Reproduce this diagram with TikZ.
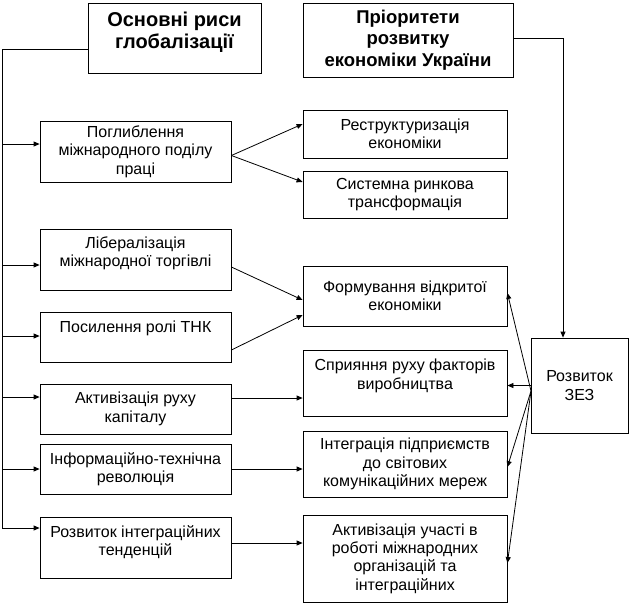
\documentclass[tikz,border=0pt]{standalone}
\usepackage{fontspec}
\setmainfont{Liberation Sans}
\usetikzlibrary{positioning,calc,arrows.meta}

\newcommand{\bodytext}{\fontsize{16}{18.4}\selectfont}
\newcommand{\headtext}{\fontsize{18.5}{21.5}\selectfont\bfseries}

\begin{document}
\begin{tikzpicture}[
    x=1pt, y=-1pt,
    box/.style={draw, line width=0.8pt, align=center, inner sep=0pt, font=\bodytext},
    headbox/.style={box, font=\headtext},
    lbox/.style={box, minimum width=191pt},
    rbox/.style={box, minimum width=204pt},
    arr/.style={-{Triangle[length=6pt,width=5pt]}, line width=0.8pt},
    wire/.style={line width=0.8pt}
]
    \useasboundingbox (0,0) rectangle (631,606);

    % Headers
    \node[headbox, font=\fontsize{20}{22}\selectfont\bfseries, minimum width=173pt, minimum height=70pt, text depth=16pt] (globnode) at (174.5,38)
        {Основні риси\\глобалізації};
    \node[headbox, minimum width=210pt, minimum height=74pt] (priornode) at (408,40)
        {Пріоритети\\розвитку\\економіки України};

    % Left column
    \node[lbox, minimum height=61pt] (poglnode) at (135.5,151.5) {Поглиблення\\міжнародного поділу\\праці};
    \node[lbox, minimum height=61pt, text depth=15.4pt] (libnode) at (135.5,259.5) {Лібералізація\\міжнародної торгівлі};
    \node[lbox, minimum height=50pt, text depth=21pt] (tnknode) at (135.5,337) {Посилення ролі ТНК};
    \node[lbox, minimum height=50pt] (kapnode) at (135.5,409) {Активізація руху\\капіталу};
    \node[lbox, minimum height=50pt] (infnode) at (135.5,469) {Інформаційно-технічна\\революція};
    \node[lbox, minimum height=61pt, text depth=13.4pt] (intnode) at (135.5,547.5) {Розвиток інтеграційних\\тенденцій};

    % Right column
    \node[rbox, minimum height=48pt] (restnode) at (405,134) {Реструктуризація\\економіки};
    \node[rbox, minimum height=47pt] (sysnode) at (405,194.5) {Системна ринкова\\трансформація};
    \node[rbox, minimum height=60pt] (formnode) at (405,296) {Формування відкритої\\економіки};
    \node[rbox, minimum height=66pt, text depth=17.4pt] (sprnode) at (405,383) {Сприяння руху факторів\\виробництва};
    \node[rbox, minimum height=66pt] (mernode) at (405,464) {Інтеграція підприємств\\до світових\\комунікаційних мереж};
    \node[rbox, minimum height=87pt] (orgnode) at (405,558.5) {Активізація участі в\\роботі міжнародних\\організацій та\\інтеграційних};

    \node[box, minimum width=97pt, minimum height=95pt] (zeznode) at (579.5,385.5) {Розвиток\\ЗЕЗ};

    % Trunk on the left
    \coordinate (trunktop) at (2,49);
    \coordinate (trunkbot) at (2,528);
    \draw[wire] (trunktop -| globnode.west) -- (trunktop) -- (trunkbot);
    \draw[arr] (2,144) -- (2,144 -| poglnode.west);
    \draw[arr] (2,265) -- (2,265 -| libnode.west);
    \draw[arr] (2,336) -- (2,336 -| tnknode.west);
    \draw[arr] (2,397) -- (2,397 -| kapnode.west);
    \draw[arr] (2,469) -- (2,469 -| infnode.west);
    \draw[arr] (trunkbot) -- (trunkbot -| intnode.west);

    % Left to right
    \draw[arr] ([yshift=-4pt]poglnode.east) -- ([yshift=10pt]restnode.west);
    \draw[arr] ([yshift=-4pt]poglnode.east) -- ([yshift=12.5pt]sysnode.west);
    \draw[arr] ([yshift=-7.5pt]libnode.east) -- ([yshift=-4pt]formnode.west);
    \draw[arr] ([yshift=-13pt]tnknode.east) -- ([yshift=-19pt]formnode.west);
    \draw[arr] ([yshift=11pt]kapnode.east) -- ([yshift=11pt]kapnode.east -| sprnode.west);
    \draw[arr] (infnode.east) -- (infnode.east -| mernode.west);
    \draw[arr] ([yshift=4.5pt]intnode.east) -- ([yshift=4.5pt]intnode.east -| orgnode.west);

    % Priorities to ZEZ
    \coordinate (zcorner) at (563,38);
    \draw[arr] (priornode.east |- zcorner) -- (zcorner) -- (zcorner |- zeznode.north);

    % ZEZ outwards
    \coordinate (zfrom) at (531,391);
    \draw[arr] (zfrom) -- ([yshift=3pt]formnode.east);
    \draw[arr] (zeznode.west) -- (zeznode.west -| sprnode.east);
    \draw[arr] (zfrom) -- ([yshift=-3pt]mernode.east);
    \draw[arr] (zfrom) -- ([yshift=-4.5pt]orgnode.east);
\end{tikzpicture}
\end{document}
